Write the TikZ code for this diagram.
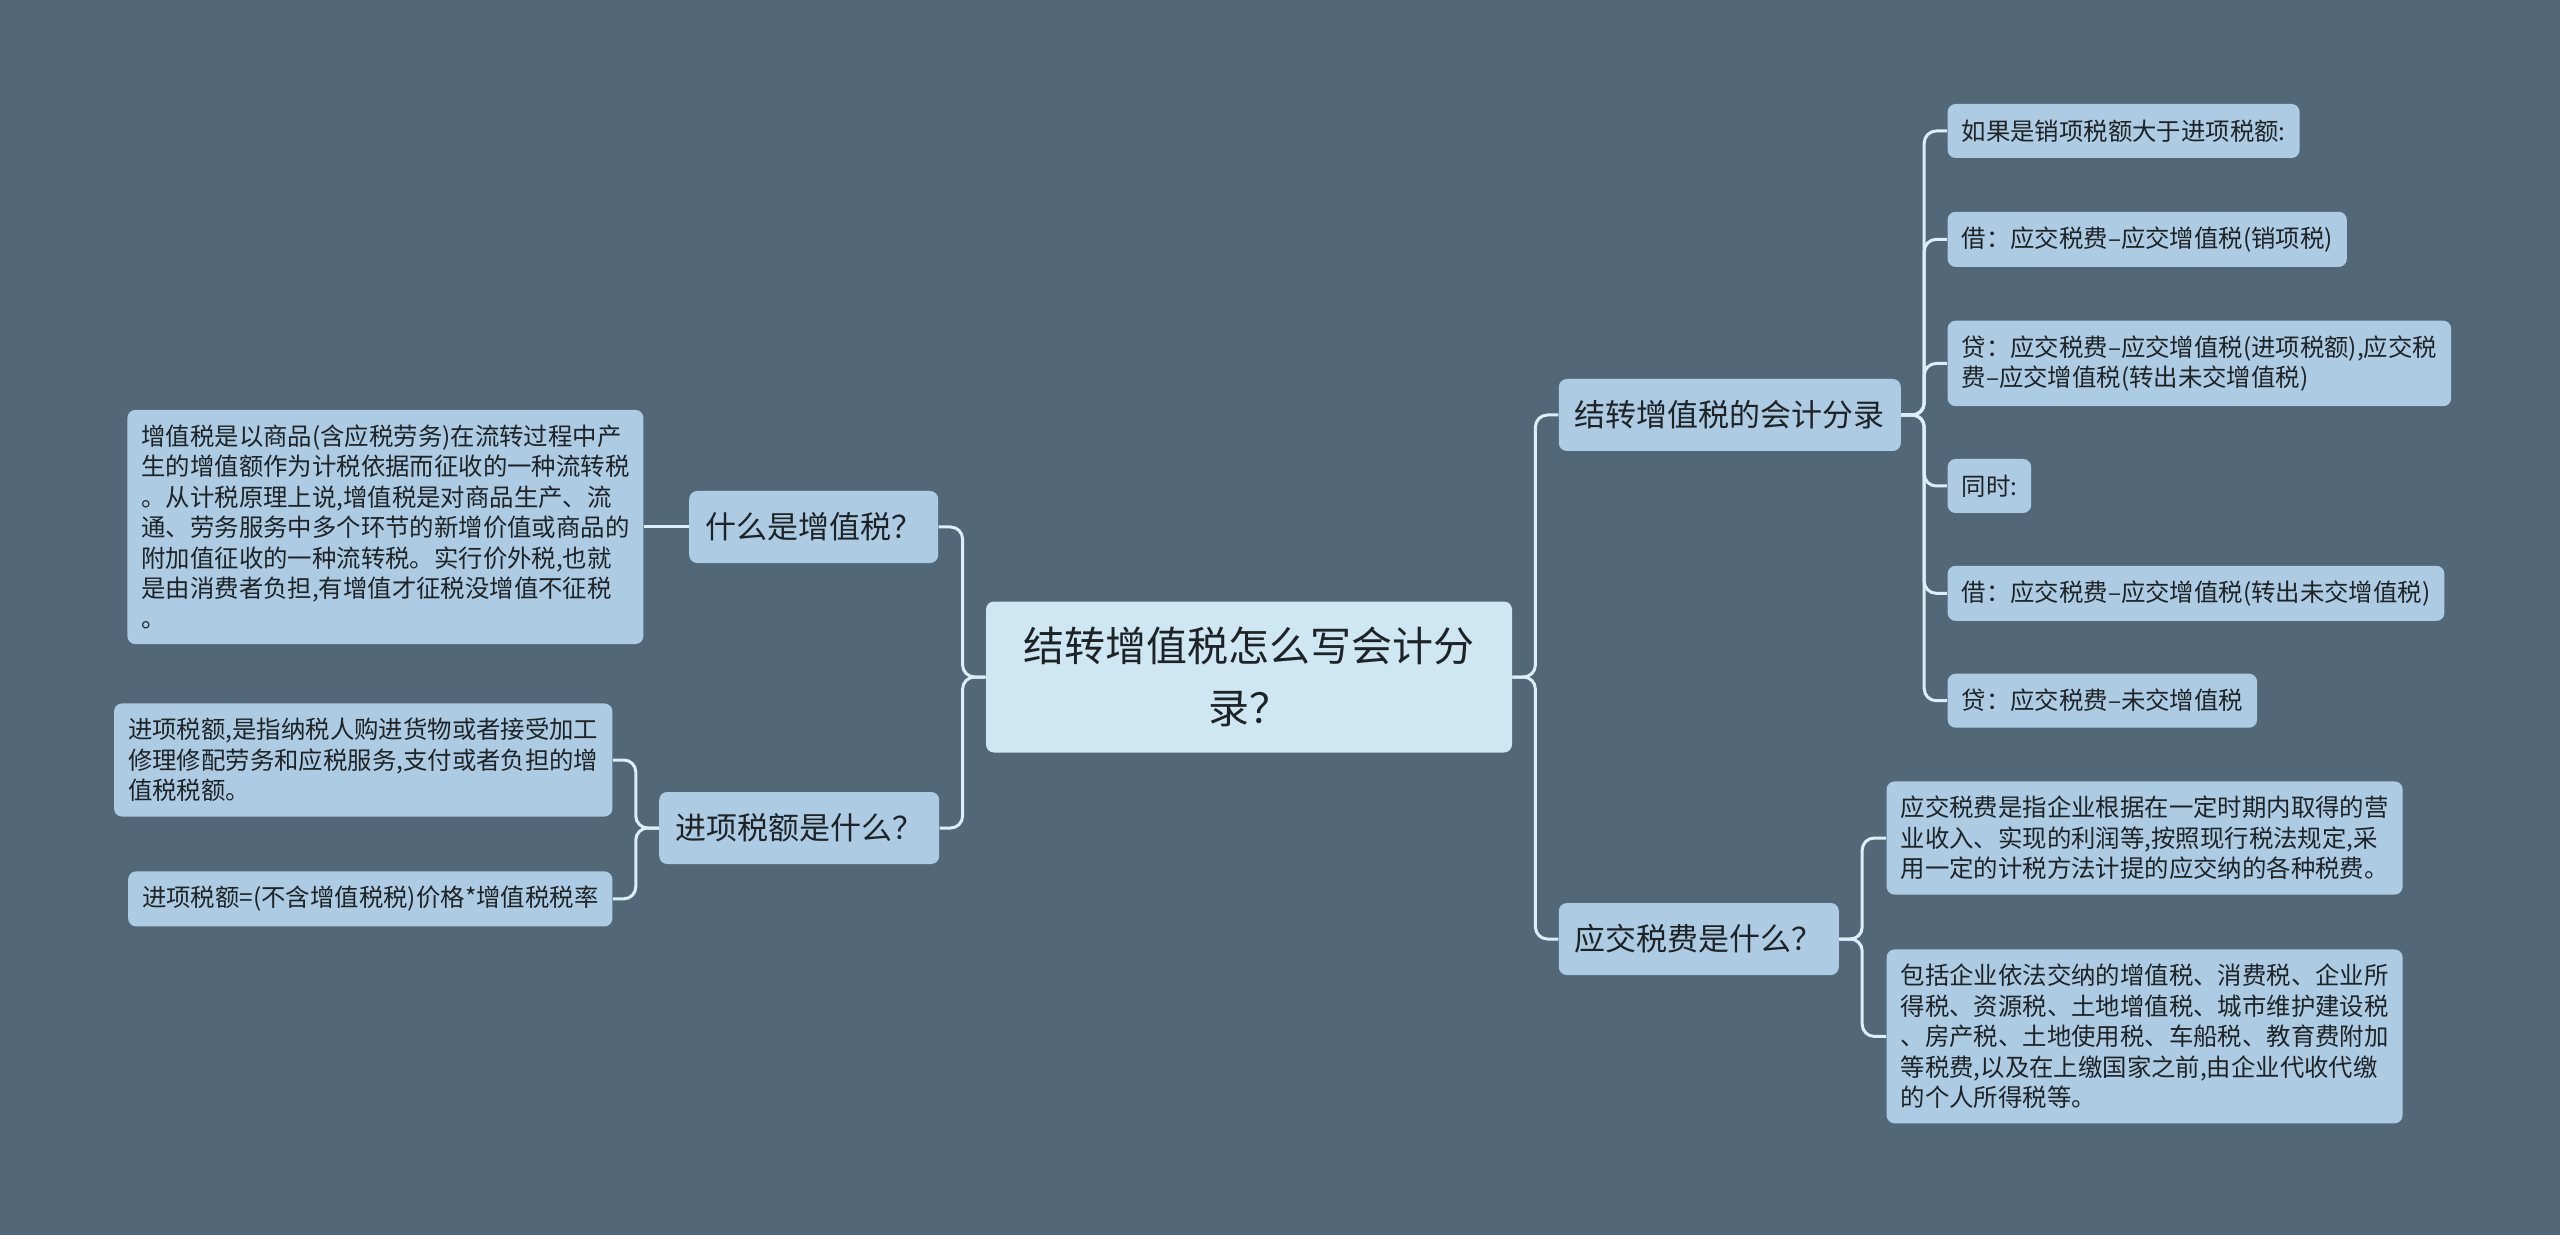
\documentclass[tikz,border=0pt]{standalone}
\usepackage{fontspec}
\setmainfont{Noto Sans CJK SC}
\usetikzlibrary{positioning}
\definecolor{bgc}{HTML}{526878}
\definecolor{leaffill}{HTML}{ADCBE3}
\definecolor{rootfill}{HTML}{CFE6F3}
\definecolor{linkc}{HTML}{DCEEF7}
\definecolor{txt}{HTML}{1E2326}

\begin{document}
\begin{tikzpicture}[x=0.5pt, y=-0.5pt,
        root/.style={rounded corners=4pt, fill=rootfill, text=txt, align=center,
                     font=\fontsize{20.5}{31}\selectfont, minimum width=263pt, minimum height=75.5pt},
        branch/.style={rounded corners=4pt, fill=leaffill, text=txt, inner xsep=8pt,
                       font=\fontsize{15.5}{20}\selectfont, minimum height=36pt},
        leaf/.style={rounded corners=4pt, fill=leaffill, text=txt, align=left, inner xsep=7pt,
                     inner ysep=7.4pt, font=\fontsize{12.2}{15.2}\selectfont},
        link/.style={draw=linkc, line width=1.5pt, rounded corners=6pt}
    ]
        \useasboundingbox[fill=bgc] (0,0) rectangle (2560,1235);

        \node[root] (root) at (1249,677) {结转增值税怎么写会计分\\录？};

        \node[branch, left=23.5pt of root, yshift=75pt] (whatvat) {什么是增值税？};
        \node[branch, left=23pt of root, yshift=-75.5pt] (inputq) {进项税额是什么？};
        \node[leaf, left=22.5pt of whatvat] (vatdef) {增值税是以商品(含应税劳务)在流转过程中产\\生的增值额作为计税依据而征收的一种流转税\\。从计税原理上说,增值税是对商品生产、流\\通、劳务服务中多个环节的新增价值或商品的\\附加值征收的一种流转税。实行价外税,也就\\是由消费者负担,有增值才征税没增值不征税\\。};
        \node[leaf, left=23pt of inputq, yshift=34pt] (inputdef) {进项税额,是指纳税人购进货物或者接受加工\\修理修配劳务和应税服务,支付或者负担的增\\值税税额。};
        \node[leaf, below=27pt of inputdef.south east, anchor=north east, minimum height=27pt] (inputfml) {进项税额=(不含增值税税)价格*增值税税率};

        \node[branch, right=23pt of root, yshift=131pt] (entry) {结转增值税的会计分录};
        \node[branch, right=23pt of root, yshift=-131pt] (payq) {应交税费是什么？};

        \node[leaf, right=23pt of entry, yshift=142pt, minimum height=27pt] (step1) {如果是销项税额大于进项税额:};
        \node[leaf, below=26.5pt of step1.south west, anchor=north west, minimum height=27pt] (step2) {借：应交税费–应交增值税(销项税)};
        \node[leaf, below=26.5pt of step2.south west, anchor=north west] (step3) {贷：应交税费–应交增值税(进项税额),应交税\\费–应交增值税(转出未交增值税)};
        \node[leaf, below=26pt of step3.south west, anchor=north west, minimum height=27pt] (step4) {同时:};
        \node[leaf, below=26pt of step4.south west, anchor=north west, minimum height=27pt] (step5) {借：应交税费–应交增值税(转出未交增值税)};
        \node[leaf, below=26pt of step5.south west, anchor=north west, minimum height=27pt] (step6) {贷：应交税费–未交增值税};

        \node[leaf, right=23.5pt of payq, yshift=50.5pt] (paydef) {应交税费是指企业根据在一定时期内取得的营\\业收入、实现的利润等,按照现行税法规定,采\\用一定的计税方法计提的应交纳的各种税费。};
        \node[leaf, below=27pt of paydef.south west, anchor=north west] (paylist) {包括企业依法交纳的增值税、消费税、企业所\\得税、资源税、土地增值税、城市维护建设税\\、房产税、土地使用税、车船税、教育费附加\\等税费,以及在上缴国家之前,由企业代收代缴\\的个人所得税等。};

        \draw[link] (root.west) -- ++(-23,0) |- (whatvat.east);
        \draw[link] (root.west) -- ++(-23,0) |- (inputq.east);
        \draw[link] (whatvat.west) -- (vatdef.east);
        \draw[link] (inputq.west) -- ++(-23,0) |- (inputdef.east);
        \draw[link] (inputq.west) -- ++(-23,0) |- (inputfml.east);
        \draw[link] (root.east) -- ++(23,0) |- (entry.west);
        \draw[link] (root.east) -- ++(23,0) |- (payq.west);
        \foreach \s in {step1,step2,step3,step4,step5,step6}
            \draw[link] (entry.east) -- ++(23,0) |- (\s.west);
        \draw[link] (payq.east) -- ++(23,0) |- (paydef.west);
        \draw[link] (payq.east) -- ++(23,0) |- (paylist.west);
    \end{tikzpicture}
\end{document}
